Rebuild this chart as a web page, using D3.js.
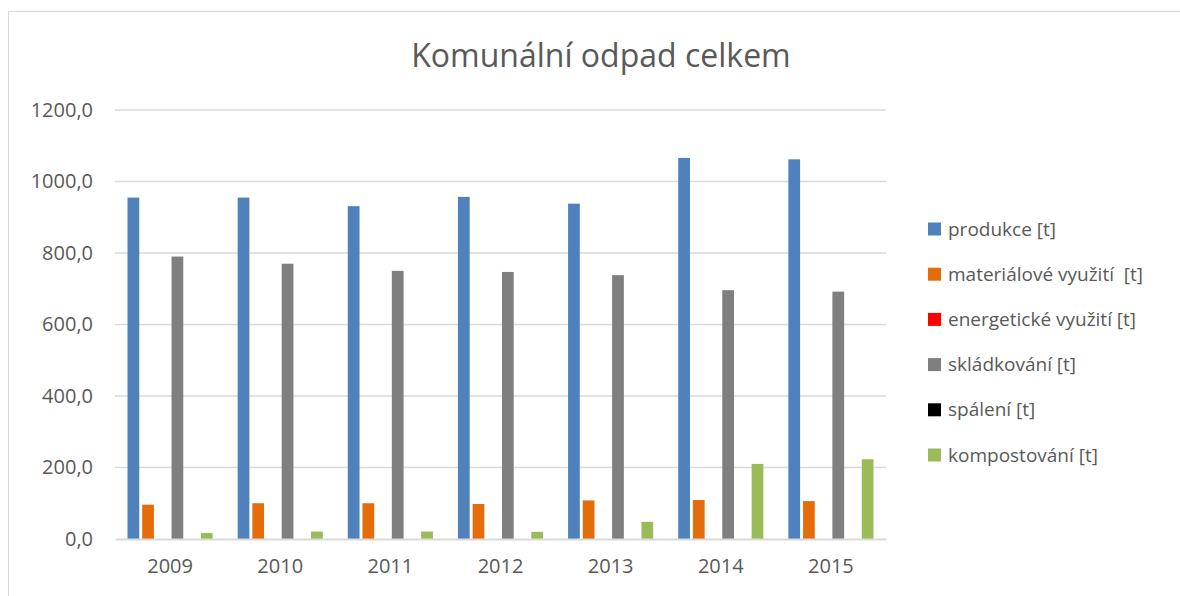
<!DOCTYPE html>
<html>
<head>
<meta charset="utf-8">
<script src="https://cdn.jsdelivr.net/npm/d3@7"></script>
<style>
body { margin: 0; background: #fff; }
text { font-family: "Open Sans", "Liberation Sans", sans-serif; fill: #595959; }
</style>
</head>
<body>
<svg></svg>
<script>
var screen = {width: 1180, height: 596};
var margins = {top: 110, right: 294, bottom: 57, left: 115};

var years = ["2009", "2010", "2011", "2012", "2013", "2014", "2015"];
var seriesNames = ["produkce [t]", "materiálové využití  [t]", "energetické využití [t]",
                   "skládkování [t]", "spálení [t]", "kompostování [t]"];
var seriesColors = ["#4f81bd", "#e46c0a", "#ff0000", "#7f7f7f", "#000000", "#9bbb59"];

var produkce     = [955, 955, 931, 957, 938, 1066, 1062];
var materialove  = [96, 100, 100, 98, 108, 109, 106];
var energeticke  = [0, 0, 0, 0, 0, 0, 0];
var skladkovani  = [790, 770, 750, 747, 738, 696, 692];
var spaleni      = [0, 0, 0, 0, 0, 0, 0];
var kompostovani = [17, 21, 21, 20, 48, 210, 223];

var yTicks = [0, 200, 400, 600, 800, 1000, 1200];

var allSeries = [produkce, materialove, energeticke, skladkovani, spaleni, kompostovani];

var svg = d3.select("svg")
    .attr("width", screen.width)
    .attr("height", screen.height);

// outer frame (runs off the right and bottom edge like the original)
svg.append("rect")
    .attr("x", 8.5).attr("y", 11.5)
    .attr("width", 1200).attr("height", 620)
    .attr("fill", "none").attr("stroke", "#d9d9d9").attr("stroke-width", 1);

svg.append("text")
    .attr("x", 601).attr("y", 67)
    .attr("text-anchor", "middle")
    .style("font-size", "32px")
    .text("Komunální odpad celkem");

var width = screen.width - margins.left - margins.right;
var height = screen.height - margins.top - margins.bottom;

var g = svg.append("g")
    .attr("transform", "translate(" + margins.left + "," + margins.top + ")");

var xScale = d3.scaleBand().domain(years).range([0, width]).padding(0);
var bw = xScale.bandwidth();
var xInner = d3.scaleBand().domain(d3.range(seriesNames.length))
    .range([bw * 0.1135, bw * 0.8865]).paddingInner(0.2);

var yScale = d3.scaleLinear().domain([0, 1200]).range([height, 0]);

// gridlines
g.selectAll(".grid").data(yTicks.slice(1)).enter()
    .append("line")
    .attr("x1", 0).attr("x2", width)
    .attr("y1", function(d) { return yScale(d); })
    .attr("y2", function(d) { return yScale(d); })
    .attr("stroke", "#d9d9d9").attr("stroke-width", 1.4);

var yAxis = d3.axisLeft(yScale).tickValues(yTicks).tickSize(0).tickPadding(22)
    .tickFormat(function(d) { return d3.format(".1f")(d).replace(".", ","); });

g.append("g").call(yAxis)
    .call(function(a) { a.select(".domain").remove(); })
    .selectAll("text").style("font-size", "20px").attr("fill", "#595959");

// bars
var groups = g.selectAll(".year").data(years).enter()
    .append("g")
    .attr("transform", function(d) { return "translate(" + xScale(d) + ",0)"; });

groups.selectAll("rect")
    .data(function(d, i) { return allSeries.map(function(s, k) { return {k: k, v: s[i]}; }); })
    .enter().append("rect")
    .attr("x", function(d) { return xInner(d.k); })
    .attr("width", xInner.bandwidth())
    .attr("y", function(d) { return yScale(d.v); })
    .attr("height", function(d) { return height - yScale(d.v); })
    .attr("fill", function(d) { return seriesColors[d.k]; });

var xAxis = d3.axisBottom(xScale).tickSize(0).tickPadding(20);
g.append("g").attr("transform", "translate(0," + height + ")").call(xAxis)
    .call(function(a) { a.select(".domain").attr("stroke", "#d9d9d9").attr("stroke-width", 2.2); })
    .selectAll("text").style("font-size", "20px").attr("fill", "#595959");

// legend
var legend = svg.append("g").attr("transform", "translate(928,229)");
var items = legend.selectAll("g").data(seriesNames).enter()
    .append("g")
    .attr("transform", function(d, i) { return "translate(0," + (i * 45.2) + ")"; });
items.append("rect")
    .attr("x", 0).attr("y", -6.5).attr("width", 13).attr("height", 13)
    .attr("fill", function(d, i) { return seriesColors[i]; });
items.append("text")
    .attr("x", 20).attr("dy", "0.35em")
    .style("font-size", "19px")
    .style("white-space", "pre")
    .text(function(d) { return d; });
</script>
</body>
</html>
